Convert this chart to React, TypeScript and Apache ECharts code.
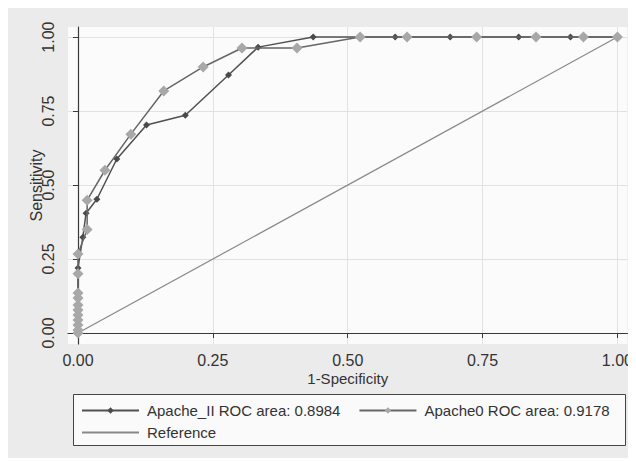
import React, { useEffect, useRef } from "react";
import * as echarts from "echarts";

const tickValues = [0, 0.25, 0.5, 0.75, 1];
const tickLabels = ["0.00", "0.25", "0.50", "0.75", "1.00"];

const apacheIIx = [0, 0, 0.009, 0.015, 0.035, 0.072, 0.127, 0.199, 0.279, 0.334, 0.436, 0.588, 0.69, 0.817, 0.913, 1.0];
const apacheIIy = [0, 0.22, 0.324, 0.405, 0.452, 0.588, 0.703, 0.736, 0.872, 0.966, 1, 1, 1, 1, 1, 1];

const apache0x = [0, 0, 0, 0, 0, 0, 0, 0, 0, 0, 0, 0.017, 0.017, 0.05, 0.098, 0.159, 0.232, 0.304, 0.406, 0.523, 0.61, 0.739, 0.849, 0.937, 1.0];
const apache0y = [0, 0.01, 0.027, 0.044, 0.061, 0.078, 0.095, 0.118, 0.135, 0.2, 0.267, 0.35, 0.449, 0.55, 0.672, 0.818, 0.899, 0.963, 0.963, 1, 1, 1, 1, 1, 1];

const refX = [0, 1];
const refY = [0, 1];

const seriesNames = ["Apache_II ROC area: 0.8984", "Apache0 ROC area: 0.9178", "Reference"];

const zip = (xs: number[], ys: number[]) => xs.map((x, i) => [x, ys[i]]);

export default function App() {
  const ref = useRef<HTMLDivElement>(null);
  useEffect(() => {
    if (!ref.current) return;
    const chart = echarts.init(ref.current, null, { renderer: "svg" });
    const font = "Liberation Sans, Arial, sans-serif";
    const axisCommon = {
      type: "value" as const,
      nameMoveOverlap: false,
      axisLine: { show: true, lineStyle: { color: "#3a3a3a", width: 1.2 } },
      axisTick: { show: true, customValues: tickValues, length: 5, lineStyle: { color: "#3a3a3a" } },
      splitLine: { show: true, lineStyle: { color: "#e2e2e2", width: 1 } },
      axisLabel: {
        customValues: tickValues,
        formatter: (v: number) => tickLabels[tickValues.indexOf(v)] ?? "",
        color: "#333",
        fontSize: 16,
        fontFamily: font,
      },
      nameTextStyle: { color: "#333", fontSize: 15, fontFamily: font },
    };
    const legendText = { color: "#333", fontSize: 15, fontFamily: font, padding: [0, 0, 0, 3] };
    chart.setOption({
      animation: false,
      backgroundColor: "#ebebeb",
      grid: {
        left: 60,
        top: 19,
        right: 6,
        bottom: 114,
        show: true,
        backgroundColor: "#fbfbfb",
        borderWidth: 0,
      },
      xAxis: {
        ...axisCommon,
        min: -0.0185,
        max: 1.0185,
        name: "1-Specificity",
        nameLocation: "middle",
        nameGap: 27,
        nameTextStyle: { color: "#333", fontSize: 15, fontFamily: font, lineHeight: 15 },
        axisLabel: { ...axisCommon.axisLabel, margin: 8, lineHeight: 16 },
      },
      yAxis: {
        ...axisCommon,
        min: -0.037,
        max: 1.034,
        name: "Sensitivity",
        nameLocation: "middle",
        nameGap: 24,
        nameTextStyle: { color: "#333", fontSize: 16, fontFamily: font },
        axisLabel: { ...axisCommon.axisLabel, rotate: 90, margin: 12, align: "center", verticalAlign: "bottom" },
      },
      legend: [
        {
          data: [seriesNames[0], seriesNames[1]],
          left: 73,
          top: 395,
          width: 550,
          padding: 0,
          itemWidth: 57,
          itemHeight: 8,
          itemGap: 18,
          textStyle: legendText,
        },
        {
          data: [{ name: seriesNames[2], itemStyle: { opacity: 0 } }],
          left: 73,
          top: 417,
          padding: 0,
          itemWidth: 57,
          itemHeight: 8,
          textStyle: legendText,
        },
      ],
      graphic: [
        {
          type: "rect",
          left: 65,
          top: 386,
          shape: { width: 552, height: 51 },
          style: { fill: "#fafafa", stroke: "#444", lineWidth: 1 },
          z: -1,
        },
      ],
      series: [
        {
          name: seriesNames[0],
          type: "line",
          data: zip(apacheIIx, apacheIIy),
          symbol: "diamond",
          symbolSize: 7,
          itemStyle: { color: "#4a4a4a" },
          lineStyle: { color: "#505050", width: 1.5 },
          z: 2,
        },
        {
          name: seriesNames[1],
          type: "line",
          data: zip(apache0x, apache0y),
          symbol: "diamond",
          symbolSize: 11,
          itemStyle: { color: "#a8a8a8" },
          lineStyle: { color: "#666", width: 1.5 },
          z: 3,
        },
        {
          name: seriesNames[2],
          type: "line",
          data: zip(refX, refY),
          symbol: "none",
          itemStyle: { color: "#888" },
          lineStyle: { color: "#888", width: 1.2 },
          z: 1,
        },
      ],
    });
    return () => chart.dispose();
  }, []);
  return <div ref={ref} style={{ width: 628, height: 450 }} />;
}
